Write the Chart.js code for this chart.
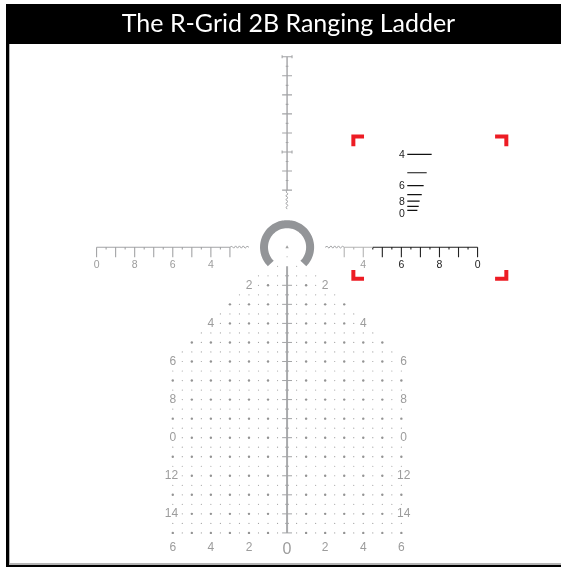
<!DOCTYPE html>
<html>
<head>
<meta charset="utf-8">
<title>The R-Grid 2B Ranging Ladder</title>
<script src="https://cdn.jsdelivr.net/npm/chart.js@4"></script>
<style>
html, body { margin: 0; padding: 0; background: #fff; }
#wrap { position: absolute; left: 0; top: 0; width: 561px; height: 567px; }
canvas { filter: blur(0.35px); }
</style>
</head>
<body>
<div id="wrap"><canvas id="reticle"></canvas></div>
<script>
// everything is in reticle units, 0,0 is the ring centre and y grows downwards
var titleText = 'The R-Grid 2B Ranging Ladder';

// dot field: how far each row reaches either side of the post
var rowDepth = [1, 1.5, 2, 2.5, 3, 3.5, 4, 4.5, 5, 5.5, 6, 6.5, 7, 7.5, 8, 8.5, 9, 9.5, 10, 10.5, 11, 11.5, 12, 12.5, 13, 13.5, 14, 14.5, 15];
var rowReach = [0.5, 1.5, 1.5, 2.5, 3, 3.5, 3.5, 4.5, 5, 5.5, 5.5, 6, 6, 6, 5.5, 6, 6, 6, 5.5, 6, 6, 6, 5.5, 6, 6, 6, 5.5, 6, 6];

// post and arms
var postTicks = [2, 3, 4, 5, 6, 7, 8, 9, 10, 11, 12, 13, 14, 15];
var postHalfTicks = [1.5, 2.5, 3.5, 4.5, 5.5, 6.5, 7.5, 8.5, 9.5, 10.5, 11.5, 12.5, 13.5, 14.5];
var topTicks = [3, 4, 5, 6, 7, 8, 9, 10];
var topHalfTicks = [3.5, 4.5, 5.5, 6.5, 7.5, 8.5, 9.5];
var topCaps = [5, 10];
var armTicks = [3, 4, 5, 6, 7, 8, 9, 10];
var armHalfTicks = [3.5, 4.5, 5.5, 6.5, 7.5, 8.5, 9.5];
var wavePos = [2, 2.1, 2.2, 2.3, 2.4, 2.5, 2.6, 2.7, 2.8, 2.9, 3];
var waveOff = [0, -0.05, 0.05, -0.07, 0.05, -0.07, 0.05, -0.07, 0.05, -0.05, 0];

// ranging ladder on the right
var ladderLeft = 6.31;
var ladderDepth = [-4.87, -3.91, -3.23, -2.76, -2.42, -2.14, -1.93];
var ladderWidth = [1.28, 1.02, 0.86, 0.76, 0.65, 0.6, 0.53];

// ring
var ringRadius = 1.21;
var ringFrom = 135;
var ringTo = 405;

// text labels
var leftArmLabels = ['0', '8', '6', '4'];
var leftArmValues = [-10, -8, -6, -4];
var rightGrayLabels = ['4'];
var rightGrayValues = [4];
var rightArmLabels = ['6', '8', '0'];
var rightArmValues = [6, 8, 10];
var ladderLabels = ['4', '6', '8', '0'];
var ladderLabelDepth = [-4.85, -3.2, -2.38, -1.74];
var gridLabels = ['2', '4', '6', '8', '0', '12', '14'];
var gridLabelDepth = [2, 4, 6, 8, 10, 12, 14];
var gridLabelLeft = [-2, -4, -6, -6, -6, -6.07, -6.07];
var gridLabelRight = [2, 4, 6.12, 6.12, 6.12, 6.12, 6.12];
var floorLabels = ['6', '4', '2', '2', '4', '6'];
var floorValues = [-6, -4, -2, 2, 4, 6];

var gray = '#a3a4a6';
var labelGray = '#9c9c9c';

function segs(list) {
	var pts = [];
	for (var i = 0; i < list.length; i++) {
		pts.push({x: list[i][0], y: list[i][1]}, {x: list[i][2], y: list[i][3]}, {x: NaN, y: NaN});
	}
	return pts;
}

var smallDots = [], bigDots = [];
for (var r = 0; r < rowDepth.length; r++) {
	for (var c = 0.5; c <= rowReach[r]; c += 0.5) {
		var big = rowDepth[r] >= 2 && rowDepth[r] % 1 === 0 && c % 1 === 0;
		(big ? bigDots : smallDots).push({x: -c, y: rowDepth[r]}, {x: c, y: rowDepth[r]});
	}
}
smallDots.push({x: 0, y: 0.5});

var postLines = [];
postTicks.forEach(function(v) { postLines.push([-0.26, v, 0.26, v]); });
postHalfTicks.forEach(function(v) { postLines.push([-0.1, v, 0.1, v]); });

var topLines = [];
topTicks.forEach(function(v) { topLines.push([-0.26, -v, 0.26, -v]); });
topHalfTicks.forEach(function(v) { topLines.push([-0.07, -v, 0.07, -v]); });
topCaps.forEach(function(v) { topLines.push([-0.26, -v - 0.08, -0.26, -v + 0.08], [0.26, -v - 0.08, 0.26, -v + 0.08]); });

var leftLines = [[-10, 0, -3, 0]];
armTicks.forEach(function(v) { leftLines.push([-v, 0, -v, 0.53]); });
armHalfTicks.forEach(function(v) { leftLines.push([-v, 0, -v, 0.12]); });

var rightGrayLines = [[3, 0, 4.5, 0], [3, 0, 3, 0.53], [4, 0, 4, 0.53], [3.5, 0, 3.5, 0.12]];
var rightBlackLines = [[4.5, 0, 10, 0]];
armTicks.forEach(function(v) { if (v > 4) rightBlackLines.push([v, 0, v, 0.53]); });
armHalfTicks.forEach(function(v) { if (v > 4) rightBlackLines.push([v, 0, v, 0.12]); });

var wavePts = [];
wavePos.forEach(function(p, i) { wavePts.push({x: -p, y: waveOff[i]}); });
wavePts.push({x: NaN, y: NaN});
wavePos.forEach(function(p, i) { wavePts.push({x: p, y: waveOff[i]}); });
wavePts.push({x: NaN, y: NaN});
wavePos.forEach(function(p, i) { wavePts.push({x: waveOff[i], y: -p}); });

var ladderLines = [];
ladderDepth.forEach(function(d, i) { ladderLines.push([ladderLeft, d, ladderLeft + ladderWidth[i], d]); });

var ringPts = [];
for (var a = ringFrom; a <= ringTo; a += 5) {
	ringPts.push({x: ringRadius * Math.cos(a * Math.PI / 180), y: ringRadius * Math.sin(a * Math.PI / 180)});
}

var brackets = [
	{x: 4.04, y: -5.81}, {x: 3.48, y: -5.81}, {x: 3.48, y: -5.30}, {x: NaN, y: NaN},
	{x: 10.92, y: -5.81}, {x: 11.51, y: -5.81}, {x: 11.51, y: -5.30}, {x: NaN, y: NaN},
	{x: 3.48, y: 1.19}, {x: 3.48, y: 1.66}, {x: 4.04, y: 1.66}, {x: NaN, y: NaN},
	{x: 11.51, y: 1.19}, {x: 11.51, y: 1.66}, {x: 10.92, y: 1.66}
];

function lineSet(pts, color, width, tension) {
	return {data: pts, showLine: true, pointRadius: 0, borderColor: color, borderWidth: width, spanGaps: false, tension: tension || 0, borderJoinStyle: 'miter'};
}
function dotSet(pts, radius, color, style) {
	return {data: pts, showLine: false, pointRadius: radius, pointBackgroundColor: color, pointBorderWidth: 0, pointStyle: style || 'circle'};
}

var framePlugin = {
	id: 'frame',
	beforeDraw: function(chart) {
		var ctx = chart.ctx;
		ctx.save();
		ctx.fillStyle = '#000';
		ctx.fillRect(6, 4, 555, 40);
		ctx.fillRect(6, 4, 3, 563);
		ctx.fillRect(6, 565, 555, 2);
		ctx.fillStyle = '#b5b5b5';
		ctx.fillRect(9, 44, 1, 520);
		ctx.fillRect(9, 563, 552, 2);
		ctx.restore();
	}
};

var labelPlugin = {
	id: 'reticleLabels',
	afterDatasetsDraw: function(chart) {
		var ctx = chart.ctx, sx = chart.scales.x, sy = chart.scales.y;
		function put(text, x, y, color, font) {
			ctx.fillStyle = color;
			ctx.font = font;
			ctx.textAlign = 'center';
			ctx.textBaseline = 'middle';
			ctx.fillText(text, sx.getPixelForValue(x), sy.getPixelForValue(y));
		}
		var small = '10.5px "Liberation Sans"', mid = '12px "Liberation Sans"';
		ctx.save();
		leftArmLabels.forEach(function(t, i) { put(t, leftArmValues[i], 0.95, labelGray, small); });
		rightGrayLabels.forEach(function(t, i) { put(t, rightGrayValues[i], 0.95, labelGray, small); });
		rightArmLabels.forEach(function(t, i) { put(t, rightArmValues[i], 0.95, '#222', small); });
		ladderLabels.forEach(function(t, i) { put(t, 6.03, ladderLabelDepth[i], '#222', small); });
		gridLabels.forEach(function(t, i) {
			put(t, gridLabelLeft[i], gridLabelDepth[i], labelGray, mid);
			put(t, gridLabelRight[i], gridLabelDepth[i], labelGray, mid);
		});
		floorLabels.forEach(function(t, i) { put(t, floorValues[i], 15.8, labelGray, mid); });
		put('0', 0, 15.85, labelGray, '16px "Liberation Sans"');
		ctx.restore();
	}
};

window.onload = function() {
	var ctx = document.getElementById('reticle').getContext('2d');
	window.reticle = new Chart(ctx, {
		type: 'scatter',
		data: {
			datasets: [
				dotSet(smallDots, 0.6, '#a2a2a2'),
				dotSet(bigDots, 1.2, '#939393'),
				lineSet(segs(postLines), gray, 1),
				lineSet([{x: 0, y: 1}, {x: 0, y: 15}], '#a9aaac', 2),
				lineSet(segs(topLines), gray, 1.1),
				lineSet([{x: 0, y: -10}, {x: 0, y: -3}], gray, 1.4),
				lineSet(segs(leftLines), gray, 1.1),
				lineSet(segs(rightGrayLines), '#b4b4b4', 1.1),
				lineSet(segs(rightBlackLines), '#222', 1.1),
				lineSet(wavePts, gray, 1),
				lineSet(segs(ladderLines), '#111', 1.2),
				// tension keeps chart.js off its fast path, that one merges points on the same pixel column
				lineSet(ringPts, '#939598', 8, 0.3),
				dotSet([{x: 0, y: 0}], 2, '#a0a0a0', 'triangle'),
				lineSet(brackets, '#ed1c24', 4)
			]
		},
		options: {
			responsive: true,
			maintainAspectRatio: false,
			animation: false,
			// the 8px ring line forces at least 4px of auto padding on every side
			layout: {padding: {left: 16, right: 0, top: 0, bottom: 4}},
			scales: {
				x: {type: 'linear', display: false, min: -14.23, max: 14.17},
				y: {type: 'linear', display: false, min: -10.67, max: 16.58, reverse: true}
			},
			plugins: {
				legend: {display: false},
				tooltip: {enabled: false},
				title: {
					display: true,
					text: titleText,
					color: '#fff',
					font: {family: 'Lato', size: 25, weight: 'normal', lineHeight: 1.2},
					padding: {top: 9, bottom: 5}
				}
			}
		},
		plugins: [framePlugin, labelPlugin]
	});
};
</script>
</body>
</html>
